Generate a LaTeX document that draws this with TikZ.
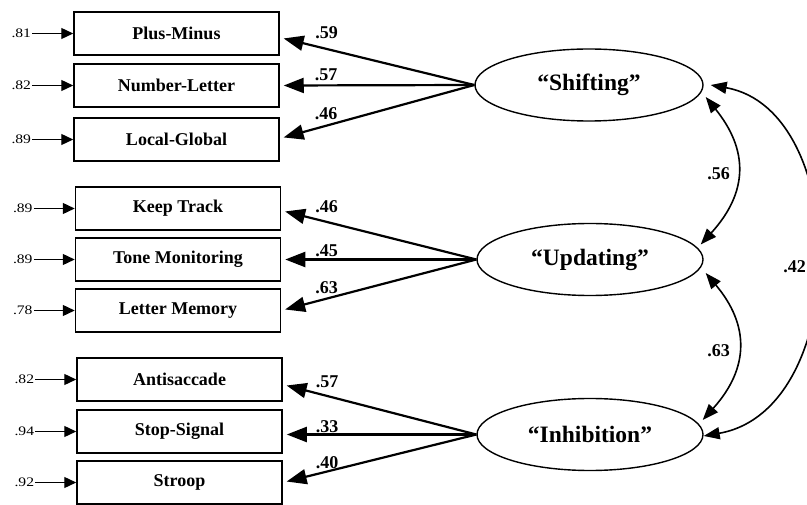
\documentclass[tikz,border=0pt]{standalone}
\usepackage{fontspec}
\setmainfont{Liberation Serif}
\usetikzlibrary{arrows.meta,shapes.geometric,positioning,calc}
\begin{document}
\begin{tikzpicture}[x=1pt,y=-1pt,
  measure/.style={draw, line width=1.5pt, minimum width=205pt, minimum height=43pt, inner sep=0pt, font=\fontsize{18}{20}\selectfont\bfseries},
  factor/.style={ellipse, draw, line width=1.4pt, minimum width=228pt, minimum height=72pt, inner sep=0pt, font=\fontsize{23.5}{26}\selectfont\bfseries},
  errlbl/.style={inner sep=1pt, font=\fontsize{13}{15}\selectfont},
  numlbl/.style={inner sep=0pt, font=\fontsize{18}{20}\selectfont\bfseries},
  errarrow/.style={line width=1.3pt, -{Triangle[length=12pt,width=11pt]}},
  loadarrow/.style={line width=2.2pt, -{Triangle[length=20pt,width=15pt]}, shorten >=4pt},
  corrarrow/.style={line width=1.6pt, {Triangle[length=16pt,width=12pt]}-{Triangle[length=16pt,width=12pt]}}
]
\useasboundingbox (0,0) rectangle (807,505);

% measures
\node[measure] (b1) at (176.5,33.5) {Plus-Minus};
\node[measure] (b2) at (176.5,85.5) {Number-Letter};
\node[measure] (b3) at (176.5,139.5) {Local-Global};
\node[measure] (b4) at (178,208.5) {Keep Track};
\node[measure] (b5) at (178,259.5) {Tone Monitoring};
\node[measure] (b6) at (178,310.5) {Letter Memory};
\node[measure] (b7) at (179.5,379.5) {Antisaccade};
\node[measure] (b8) at (179.5,431.5) {Stop-Signal};
\node[measure] (b9) at (179.5,482.5) {Stroop};

% factors
\node[factor] (S) at (589,85) {“Shifting”};
\node[factor, minimum width=226pt] (U) at (590,259.5) {“Updating”};
\node[factor, minimum width=226pt] (I) at (590,434.5) {“Inhibition”};

% error terms
\node[errlbl, left=41pt of b1] (e1) {\scalebox{1.2}[1]{.81}};
\node[errlbl, left=41pt of b2] (e2) {\scalebox{1.2}[1]{.82}};
\node[errlbl, left=41pt of b3] (e3) {\scalebox{1.2}[1]{.89}};
\node[errlbl, left=41pt of b4] (e4) {\scalebox{1.2}[1]{.89}};
\node[errlbl, left=41pt of b5] (e5) {\scalebox{1.2}[1]{.89}};
\node[errlbl, left=41pt of b6] (e6) {\scalebox{1.2}[1]{.78}};
\node[errlbl, left=41pt of b7] (e7) {\scalebox{1.2}[1]{.82}};
\node[errlbl, left=41pt of b8] (e8) {\scalebox{1.2}[1]{.94}};
\node[errlbl, left=41pt of b9] (e9) {\scalebox{1.2}[1]{.92}};
\foreach \i in {1,...,9} \draw[errarrow] (e\i) -- (b\i);

% loadings
\draw[loadarrow] (S.west) -- ([yshift=-4pt]b1.east);
\draw[loadarrow] (S.west) -- (b2.east);
\draw[loadarrow] (S.west) -- ([yshift=1pt]b3.east);
\draw[loadarrow] (U.west) -- ([yshift=-2pt]b4.east);
\draw[loadarrow] (U.west) -- (b5.east);
\draw[loadarrow] (U.west) -- (b6.east);
\draw[loadarrow] (I.west) -- ([yshift=-5pt]b7.east);
\draw[loadarrow] (I.west) -- ([yshift=-3pt]b8.east);
\draw[loadarrow] (I.west) -- (b9.east);

\node[numlbl] (l1) at (326.5,32.5) {.59};
\node[numlbl] (l2) at (326,75) {.57};
\node[numlbl] (l3) at (326,114) {.46};
\node[numlbl] (l4) at (326.5,207) {.46};
\node[numlbl] (l5) at (326.5,251) {.45};
\node[numlbl] (l6) at (326.5,288) {.63};
\node[numlbl] (l7) at (327,382) {.57};
\node[numlbl] (l8) at (327,427) {.33};
\node[numlbl] (l9) at (327,463) {.40};

% correlations
\draw[corrarrow] ($(S.east)+(2,12)$) .. controls (748.5,150) and (748.5,192) .. ($(U.east)+(-3,-15)$);
\draw[corrarrow] ($(U.east)+(2,13.5)$) .. controls (749.5,325) and (749.5,368) .. ($(I.east)+(-1,-14.5)$);
\draw[corrarrow] ($(S.east)+(7,0)$) .. controls (852,110) and (852,410) .. ($(I.east)+(0,1.5)$);

\node[numlbl] (c1) at (718.5,174) {.56};
\node[numlbl] (c2) at (718.5,351) {.63};
\node[numlbl, anchor=east] (c3) at (806,267) {.42};
\end{tikzpicture}
\end{document}
